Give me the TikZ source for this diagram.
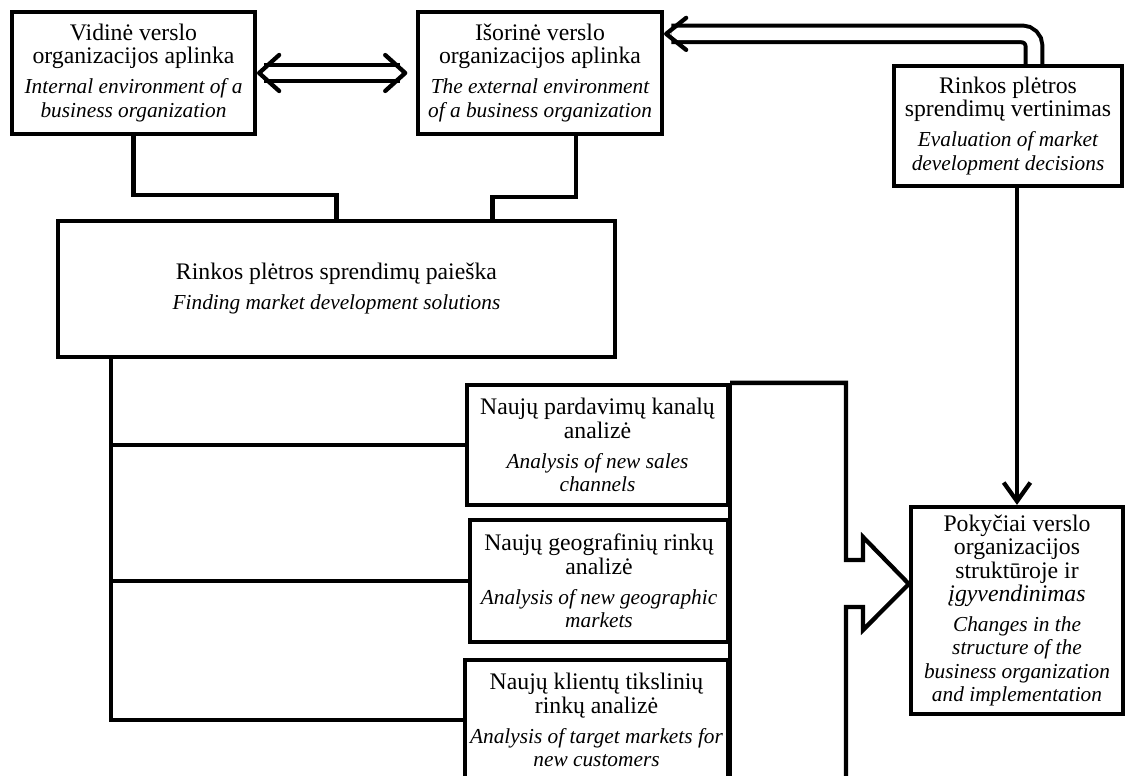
\documentclass[tikz,border=0pt]{standalone}
\usepackage{fontspec}
\setmainfont{Liberation Serif}
\usetikzlibrary{arrows.meta}
\newcommand{\ltfont}{\fontsize{17.8}{17.5}\selectfont}
\newcommand{\enfont}{\fontsize{16}{17.5}\selectfont\itshape}
\tikzset{
    box/.style={draw, line width=3.2pt, fill=white, align=center, inner sep=0pt, font=\ltfont},
    link/.style={line width=3.2pt},
    dbl/.style={line width=3pt, double, double distance=9.5pt},
    head/.style={line width=3.2pt, line cap=round, line join=round},
}
\begin{document}
\begin{tikzpicture}[x=0.75pt, y=-0.75pt]
    \useasboundingbox (0,0) rectangle (1126,775);
    % top row
    \node[box, minimum width=182.25pt, minimum height=91.5pt] (vidine) at (133.5,73) {
        Vidinė verslo\\organizacijos aplinka\\[5pt]
        \enfont Internal environment of a\\\enfont business organization
    };
    \node[box, minimum width=183pt, minimum height=91.5pt] (isorine) at (540,73) {
        Išorinė verslo\\organizacijos aplinka\\[5pt]
        \enfont The external environment\\\enfont of a business organization
    };
    \node[box, minimum width=171pt, minimum height=90pt] (vertinimas) at (1008,126) {
        Rinkos plėtros\\sprendimų vertinimas\\[5pt]
        \enfont Evaluation of market\\\enfont development decisions
    };
    \node[box, minimum width=417.75pt, minimum height=102pt] (paieska) at (336.5,289) {
        Rinkos plėtros sprendimų paieška\\[5pt]
        \enfont Finding market development solutions
    };
    % analysis boxes
    \node[box, minimum width=195.75pt, minimum height=90pt] (kanalai) at (597.5,445) {
        Naujų pardavimų kanalų\\analizė\\[5pt]
        \enfont Analysis of new sales\\\enfont channels
    };
    \node[box, minimum width=193.5pt, minimum height=91.5pt] (geografija) at (599,581) {
        Naujų geografinių rinkų\\analizė\\[5pt]
        \enfont Analysis of new geographic\\\enfont markets
    };
    \node[box, minimum width=197.25pt, minimum height=90pt] (klientai) at (596.5,720) {
        Naujų klientų tikslinių\\rinkų analizė\\[5pt]
        \enfont Analysis of target markets for\\\enfont new customers
    };
    \node[box, minimum width=159pt, minimum height=155.25pt] (pokyciai) at (1017,610.5) {
        Pokyčiai verslo\\organizacijos\\struktūroje ir\\\itshape įgyvendinimas\\[5pt]
        \enfont Changes in the\\\enfont structure of the\\\enfont business organization\\\enfont and implementation
    };

    % links
    \draw[link] (vidine.south) -- ++(0,59) -| (paieska.north);
    \draw[link] ([xshift=27pt]isorine.south) -- ++(0,61) -| ([xshift=117pt]paieska.north);
    \foreach \n in {kanalai,geografija,klientai}
        \draw[link] ([xshift=41.25pt]paieska.south west) |- (\n.west);
    \draw[link] (kanalai.north east) -- (klientai.south east);

    % block arrow
    \coordinate (tip) at ([yshift=19.9pt]pokyciai.west);
    \draw[link] (kanalai.north east) -| (846,560) -- (863,560) -- (863,537) -- (tip)
        -- (863,630) -- (863,607) -- (846,607) -- (846,790);

    % double arrows
    \coordinate (ab1) at ([xshift=1.5pt]vidine.east);
    \coordinate (ab2) at ([xshift=-8pt]isorine.west);
    \coordinate (cb) at ([shift={(2,24)}]isorine.north east);
    \draw[dbl] ([xshift=4pt]ab1) -- ([xshift=-4pt]ab2);
    \draw[dbl, rounded corners=9pt] ([xshift=19.5pt]vertinimas.north) |- ([xshift=4pt]cb);
    \draw[head] ([shift={(20,-18)}]ab1) -- (ab1) -- ([shift={(20,18)}]ab1);
    \draw[head] ([shift={(-20,-18)}]ab2) -- (ab2) -- ([shift={(-20,18)}]ab2);
    \draw[head] ([shift={(20,-16)}]cb) -- (cb) -- ([shift={(20,16)}]cb);

    \draw[link, -{Straight Barb[length=14pt,width=20pt]}] (pokyciai.north |- vertinimas.south) -- (pokyciai.north);
\end{tikzpicture}
\end{document}
